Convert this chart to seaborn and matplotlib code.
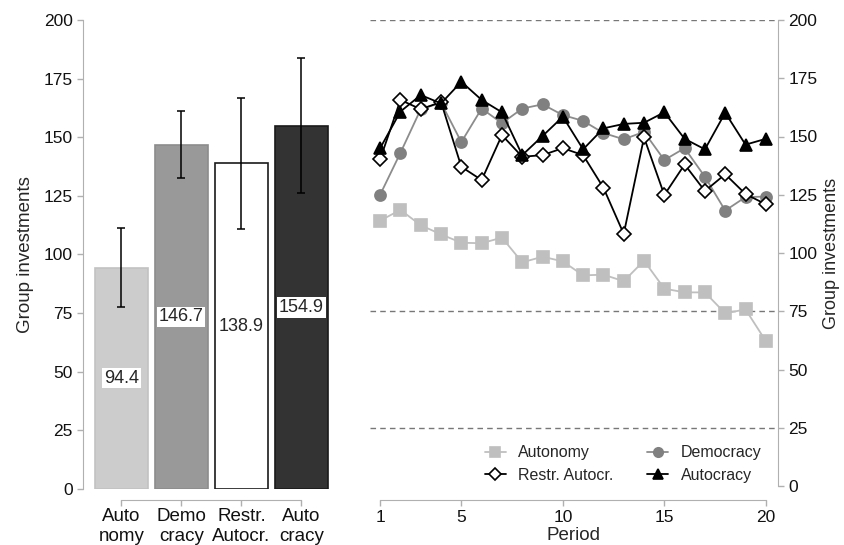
import numpy as np
import pandas as pd
import seaborn as sns
import matplotlib.pyplot as plt

# bar panel data
groups = ['Auto\nnomy', 'Demo\ncracy', 'Restr.\nAutocr.', 'Auto\ncracy']
means = [94.4, 146.7, 138.9, 154.9]
ci_low = [77.6, 132.6, 111.0, 126.2]
ci_high = [111.4, 161.0, 166.8, 183.9]
bar_fill = ['#cccccc', '#999999', '#ffffff', '#333333']
bar_edge = ['#c2c2c2', '#8c8c8c', '#1a1a1a', '#1a1a1a']

# period panel data
periods = list(range(1, 21))
autonomy = [113.9, 118.5, 111.9, 108.0, 104.4, 104.2, 106.6, 96.0, 98.4, 96.4,
            90.4, 90.7, 87.9, 96.7, 84.7, 83.1, 83.1, 74.1, 75.8, 62.2]
democracy = [125.0, 143.0, 161.7, 164.5, 147.6, 162.0, 155.7, 162.0, 163.8, 159.2,
             156.7, 151.5, 148.8, 152.0, 139.9, 145.0, 132.7, 118.2, 124.0, 124.2]
restr_autocr = [140.2, 165.7, 161.7, 164.8, 137.0, 131.3, 150.6, 141.3, 142.0, 145.0,
                142.0, 128.0, 108.2, 149.6, 124.9, 138.0, 126.6, 133.8, 125.3, 120.9]
autocracy = [145.0, 160.7, 167.8, 164.2, 173.5, 165.7, 160.4, 142.0, 150.2, 158.5,
             144.5, 153.5, 155.4, 155.9, 160.4, 149.0, 144.5, 160.2, 146.5, 149.0]
ref_lines = [200, 75, 25]

sns.set_style('white')
plt.rcParams['font.family'] = ['Liberation Sans', 'DejaVu Sans']
plt.rcParams['font.size'] = 12

spine_col = '#b0b0b0'

fig = plt.figure(figsize=(8.44, 5.45), dpi=100)
ax1 = fig.add_axes([83 / 844, 56 / 545, 252 / 844, 469 / 545])
ax2 = fig.add_axes([370 / 844, 59 / 545, 408 / 844, 466 / 545])

# ---- left: bars
bdf = pd.DataFrame({'group': groups, 'mean': means})
sns.barplot(data=bdf, x='group', y='mean', ax=ax1, width=0.88,
            palette=bar_fill, hue='group', legend=False, linewidth=1.2)
for patch, ec in zip(ax1.patches, bar_edge):
    patch.set_edgecolor(ec)
x = np.arange(len(groups))
ax1.errorbar(x, means,
             yerr=[np.array(means) - np.array(ci_low), np.array(ci_high) - np.array(means)],
             fmt='none', ecolor='black', elinewidth=1.1, capsize=3, capthick=1.1, zorder=5)
for xi, m in zip(x, means):
    ax1.text(xi, m / 2, f'{m:.1f}', ha='center', va='center', fontsize=13,
             bbox=dict(facecolor='white', edgecolor='none', pad=1.2), zorder=6)
ax1.set_xlim(-0.64, 3.56)
ax1.set_ylim(0, 200)
ax1.set_yticks([0, 25, 50, 75, 100, 125, 150, 175, 200])
ax1.set_xlabel('')
ax1.set_ylabel('Group investments', fontsize=13.5, labelpad=7)
for s in ['top', 'right']:
    ax1.spines[s].set_visible(False)
ax1.spines['left'].set_color(spine_col)
ax1.spines['bottom'].set_color(spine_col)
ax1.spines['bottom'].set_position(('outward', 8))
ax1.spines['bottom'].set_bounds(0, 3)
ax1.tick_params(axis='both', colors=spine_col, labelcolor='#111111', length=4,
                width=1, labelsize=12.5, left=True, bottom=True)
ax1.tick_params(axis='x', pad=2, labelsize=13.5)

# ---- right: lines per period
for yv in ref_lines:
    ax2.axhline(yv, color='#777777', linestyle=(0, (4, 3)), linewidth=1, zorder=1)

series = [
    ('Autonomy', autonomy, '#bfbfbf', 's', '#bfbfbf', '#bfbfbf', 8),
    ('Democracy', democracy, '#8c8c8c', 'o', '#808080', '#808080', 8),
    ('Restr. Autocr.', restr_autocr, 'black', 'D', 'white', 'black', 7),
    ('Autocracy', autocracy, 'black', '^', 'black', 'black', 9),
]
for name, vals, lc, mk, mfc, mec, ms in series:
    sns.lineplot(x=periods, y=vals, ax=ax2, color=lc, marker=mk, markersize=ms,
                 markerfacecolor=mfc, markeredgecolor=mec, markeredgewidth=1.2,
                 linewidth=1.3, label=name, zorder=3)

handles, labels = ax2.get_legend_handles_labels()
order = [0, 2, 1, 3]
ax2.legend([handles[i] for i in order], [labels[i] for i in order], ncol=2,
           loc='lower left', bbox_to_anchor=(0.262, -0.01), frameon=False,
           fontsize=11.5, handlelength=1.3, handletextpad=0.8, columnspacing=2.1,
           borderpad=0, markerscale=0.85, labelspacing=0.45)

ax2.set_xlim(0.5, 20.6)
ax2.set_ylim(0, 200)
ax2.set_xticks([1, 5, 10, 15, 20])
ax2.set_yticks([0, 25, 50, 75, 100, 125, 150, 175, 200])
ax2.yaxis.tick_right()
ax2.yaxis.set_label_position('right')
ax2.set_ylabel('Group investments', fontsize=13, labelpad=4)
ax2.set_xlabel('Period', fontsize=13.5, labelpad=1)
for s in ['top', 'left']:
    ax2.spines[s].set_visible(False)
ax2.spines['right'].set_color(spine_col)
ax2.spines['bottom'].set_color(spine_col)
ax2.spines['bottom'].set_position(('outward', 10))
ax2.spines['bottom'].set_bounds(1, 20)
ax2.tick_params(axis='both', colors=spine_col, labelcolor='#111111', length=4,
                width=1, labelsize=12.5, right=True, left=False, bottom=True)

fig.savefig('out.png', dpi=100)
